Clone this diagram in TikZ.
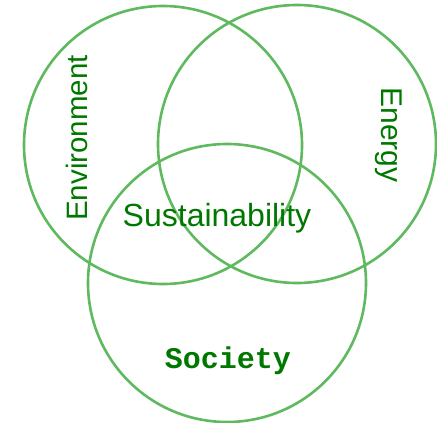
\documentclass[tikz,border=0pt]{standalone}
\usepackage{fontspec}
\setmainfont{Liberation Sans}
\newfontfamily\monofont{Liberation Mono}
\definecolor{ringgreen}{RGB}{95,185,95}
\definecolor{textgreen}{RGB}{0,120,0}
\begin{document}
\begin{tikzpicture}[x=1pt, y=-1pt]
        \useasboundingbox (0,0) rectangle (437,423);
        \tikzset{ring/.style={draw=ringgreen, line width=2.6pt},
                 lbl/.style={text=textgreen, inner sep=0pt}}
        \coordinate (env) at (163,145);
        \coordinate (nrg) at (297,144);
        \coordinate (soc) at (227,283);
        
        \foreach \c in {env,nrg,soc} \draw[ring] (\c) circle (139);
        
        \node[lbl, rotate=90, font=\fontsize{29.5}{30}\selectfont] (envlabel) at (77,138) {Environment};
        \node[lbl, rotate=-90, font=\fontsize{30}{31}\selectfont] (nrglabel) at (389,135) {Energy};
        \node[lbl, font=\fontsize{32}{33}\selectfont] (sustlabel) at (217,218) {Sustainability};
        \node[lbl, font=\monofont\bfseries\fontsize{30}{31}\selectfont] (soclabel) at (228,361) {Society};
    \end{tikzpicture}
\end{document}
